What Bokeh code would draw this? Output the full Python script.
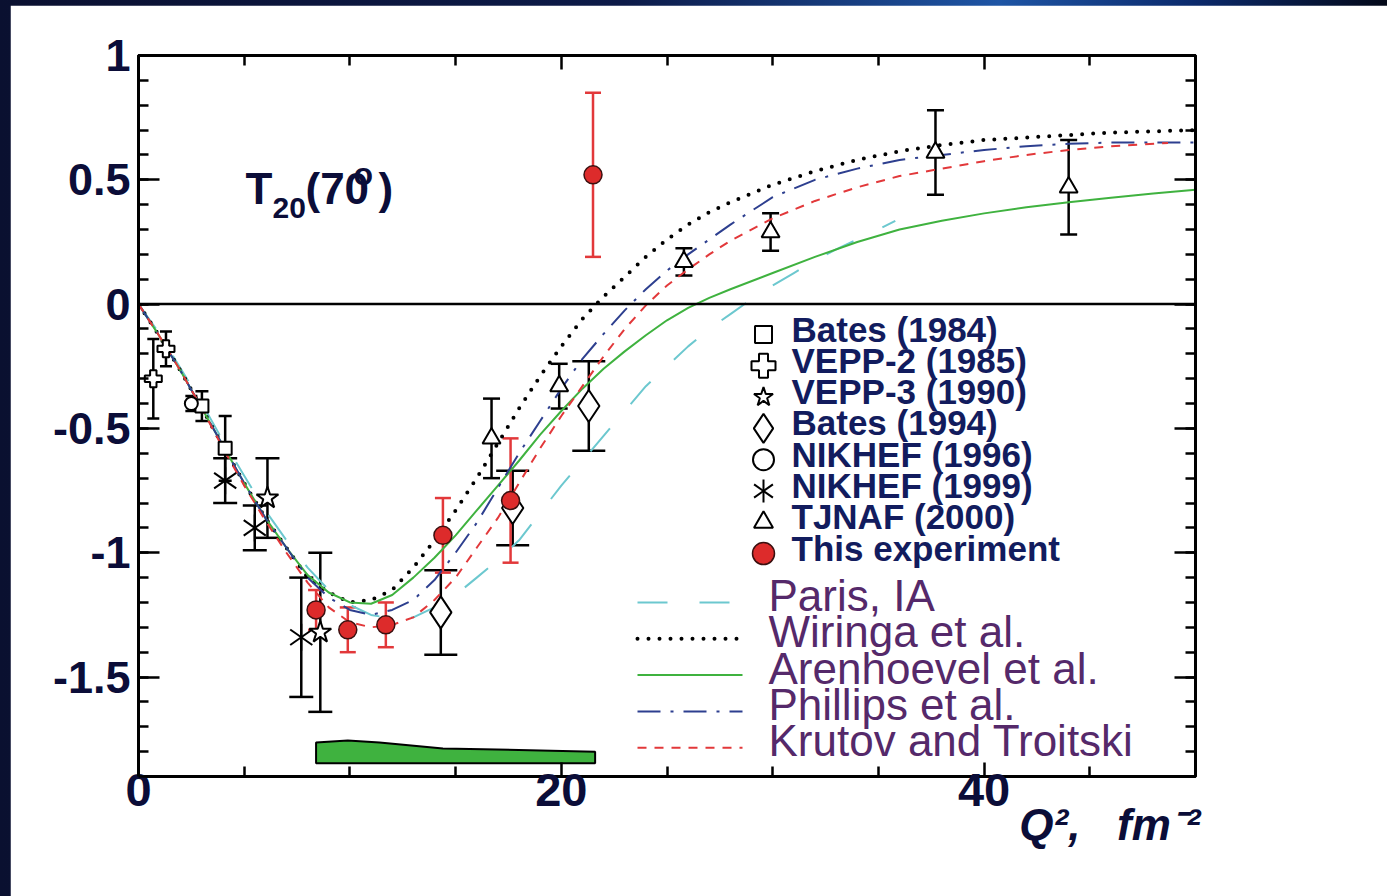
import numpy as np
from bokeh.plotting import figure
from bokeh.models import (ColumnDataSource, Whisker, TeeHead, Span, Label, LinearAxis,
                          FixedTicker, Range1d)
from bokeh.layouts import column
from bokeh.core.properties import value
from bokeh.embed import file_html
from bokeh.resources import INLINE

FONT = "Liberation Sans"
NAVY = "#0b0d38"
DATA_LBL_COLOR = "#121c5e"
THEORY_LBL_COLOR = "#55296a"

# ---------------- data ----------------
bates84_x = [3.0, 4.1]
bates84_y = [-0.41, -0.58]
bates84_e = [0.06, 0.13]

vepp2_x = [0.7, 1.3]
vepp2_y = [-0.30, -0.18]
vepp2_e = [0.16, 0.07]

vepp3_x = [6.1, 8.6]
vepp3_y = [-0.78, -1.32]
vepp3_e = [0.16, 0.32]

bates94_x = [14.3, 17.7, 21.3]
bates94_y = [-1.24, -0.82, -0.41]
bates94_e = [0.17, 0.15, 0.18]

nikhef96_x = [2.5]
nikhef96_y = [-0.40]
nikhef96_e = [0.03]

nikhef99_x = [4.1, 5.5, 7.7]
nikhef99_y = [-0.71, -0.90, -1.34]
nikhef99_e = [0.09, 0.09, 0.24]

tjnaf_x = [16.7, 19.9, 25.8, 29.9, 37.7, 44.0]
tjnaf_y = [-0.54, -0.33, 0.17, 0.29, 0.61, 0.47]
tjnaf_e = [0.16, 0.09, 0.055, 0.075, 0.17, 0.19]

this_x = [8.4, 9.9, 11.7, 14.4, 17.6, 21.5]
this_y = [-1.23, -1.31, -1.29, -0.93, -0.79, 0.52]
this_e = [0.08, 0.09, 0.09, 0.15, 0.25, 0.33]

# systematic-error band
sys_x = [8.4, 9.9, 11.4, 14.4, 21.6]
sys_top = [-1.763, -1.755, -1.763, -1.787, -1.80]
sys_bottom = [-1.847, -1.847, -1.847, -1.847, -1.847]

# theory curves
curve_x = [0, 1, 2, 3, 4, 5, 6, 7, 8, 9, 10, 11, 12, 13, 14, 15, 16, 17, 18, 19, 20,
           21, 22, 23, 24, 25, 26, 27, 28, 30, 32, 34, 36, 38, 40, 42, 44, 46, 48, 50]
wiringa_y = [0, -0.13, -0.27, -0.42, -0.57, -0.72, -0.86, -0.98, -1.10, -1.16, -1.20,
             -1.19, -1.15, -1.06, -0.95, -0.83, -0.70, -0.56, -0.42, -0.29, -0.17,
             -0.06, 0.03, 0.11, 0.19, 0.26, 0.32, 0.37, 0.41, 0.48, 0.535, 0.58, 0.615,
             0.64, 0.66, 0.67, 0.68, 0.69, 0.695, 0.70]
arenhoevel_y = [0, -0.13, -0.27, -0.42, -0.57, -0.72, -0.86, -0.98, -1.09, -1.16, -1.20,
                -1.205, -1.17, -1.10, -1.02, -0.93, -0.83, -0.73, -0.63, -0.525, -0.43,
                -0.34, -0.26, -0.19, -0.125, -0.065, -0.015, 0.025, 0.06, 0.125, 0.19,
                0.25, 0.30, 0.335, 0.365, 0.39, 0.41, 0.428, 0.445, 0.46]
phillips_y = [0, -0.13, -0.27, -0.42, -0.57, -0.72, -0.86, -0.98, -1.10, -1.18, -1.23,
              -1.25, -1.23, -1.19, -1.11, -1.00, -0.88, -0.74, -0.60, -0.47, -0.34,
              -0.22, -0.12, -0.025, 0.06, 0.135, 0.20, 0.26, 0.32, 0.43, 0.50, 0.545,
              0.58, 0.60, 0.62, 0.635, 0.645, 0.65, 0.65, 0.65]
krutov_x = [0, 1, 2, 3, 4, 5, 6, 7, 8, 9, 10, 11, 12, 13, 14, 15, 16, 17, 18, 19, 20,
            21, 22, 23, 24, 25, 26, 27, 28, 30, 32, 34, 36, 38, 40, 42, 44, 46, 48.7]
krutov_y = [0, -0.13, -0.27, -0.42, -0.58, -0.73, -0.87, -1.00, -1.12, -1.22, -1.28,
            -1.30, -1.29, -1.26, -1.19, -1.10, -0.98, -0.86, -0.72, -0.58, -0.45,
            -0.33, -0.21, -0.10, -0.005, 0.075, 0.14, 0.20, 0.255, 0.345, 0.415, 0.47,
            0.515, 0.545, 0.575, 0.60, 0.62, 0.635, 0.648]
paris_x = [0, 1, 2, 3, 4, 5, 6, 7, 8, 9, 10, 11, 12, 13, 14, 15, 16, 17, 18, 19, 20,
           21, 22, 23, 24, 25, 26, 27, 28, 29, 30, 31, 32, 33, 34, 35, 35.8]
paris_y = [0, -0.12, -0.26, -0.40, -0.55, -0.69, -0.83, -0.95, -1.06, -1.15, -1.21,
           -1.25, -1.265, -1.26, -1.22, -1.17, -1.10, -1.03, -0.95, -0.84, -0.73,
           -0.63, -0.53, -0.43, -0.33, -0.25, -0.17, -0.10, -0.04, 0.02, 0.075, 0.125,
           0.175, 0.22, 0.26, 0.30, 0.335]

# ticks
X_TICKS = [0, 20, 40]
X_TICK_LABELS = ["0", "20", "40"]
X_MINOR = [5, 10, 15, 25, 30, 35, 45]
Y_TICKS = [-1.5, -1.0, -0.5, 0.0, 0.5, 1.0]
Y_TICK_LABELS = ["-1.5", "-1", "-0.5", "0", "0.5", "1"]
X_TITLE = "Q\u00b2,\u00a0\u00a0\u00a0fm\u207b\u00b2"

DATA_LABELS = ["Bates (1984)", "VEPP-2 (1985)", "VEPP-3 (1990)", "Bates  (1994)",
               "NIKHEF (1996)", "NIKHEF (1999)", "TJNAF (2000)", "This experiment"]
THEORY_LABELS = ["Paris, IA", "Wiringa et al.", "Arenhoevel et al.", "Phillips et al.",
                 "Krutov and Troitski"]

# ---------------- layout helpers (page pixels -> data) ----------------
X_MIN, X_MAX = 0.0, 50.0
Y_MIN, Y_MAX = -1.9, 1.0
FRAME_L, FRAME_R, FRAME_T, FRAME_B = 138.0, 1195.0, 55.0, 776.0
BASELINE_FIX = 0.385   # em shift between requested and drawn baseline


def px2x(px):
    return X_MIN + (px - FRAME_L) / (FRAME_R - FRAME_L) * (X_MAX - X_MIN)


def py2y(py):
    return Y_MAX - (py - FRAME_T) / (FRAME_B - FRAME_T) * (Y_MAX - Y_MIN)


def base_y(py, size):
    return py2y(py - BASELINE_FIX * size)


p = figure(width=1377, height=891,
           x_range=Range1d(X_MIN, X_MAX), y_range=Range1d(Y_MIN, Y_MAX),
           output_backend="svg", toolbar_location=None,
           min_border_left=128, min_border_right=192, min_border_top=50,
           min_border_bottom=120,
           background_fill_color="white", border_fill_color="white",
           outline_line_color="black", outline_line_width=3)
p.xgrid.visible = False
p.ygrid.visible = False

xticker = FixedTicker(ticks=X_TICKS, minor_ticks=X_MINOR)
yminor = [float(v) for v in np.round(np.arange(-1.9, 1.0001, 0.1), 2)]
yticker = FixedTicker(ticks=Y_TICKS, minor_ticks=yminor)


def style_axis(ax, major_in):
    ax.axis_line_color = "black"
    ax.axis_line_width = 3
    ax.major_tick_line_color = "black"
    ax.major_tick_line_width = 2.5
    ax.minor_tick_line_color = "black"
    ax.minor_tick_line_width = 2.5
    ax.major_tick_in = major_in
    ax.major_tick_out = 0
    ax.minor_tick_in = 10
    ax.minor_tick_out = 0


xa = p.xaxis[0]
xa.ticker = xticker
xa.major_label_overrides = {t: l for t, l in zip(X_TICKS, X_TICK_LABELS)}
style_axis(xa, 14)
xa.major_label_text_font = FONT
xa.major_label_text_font_style = "bold"
xa.major_label_text_font_size = "47px"
xa.major_label_text_color = NAVY
xa.major_label_standoff = -3
# the axis title is centred on the axis end; trailing no-break spaces move
# its visible part to the left so that it ends at the frame corner
xa.axis_label = X_TITLE + "\u00a0" * 14
xa.axis_label_text_font = FONT
xa.axis_label_text_font_style = "bold italic"
xa.axis_label_text_font_size = "44px"
xa.axis_label_text_color = NAVY
xa.axis_label_standoff = -9
for v in ("end", "right"):
    try:
        xa.axis_label_align = v
        break
    except Exception:
        pass

ya = p.yaxis[0]
ya.ticker = yticker
ya.major_label_overrides = {t: l for t, l in zip(Y_TICKS, Y_TICK_LABELS)}
style_axis(ya, 21)
ya.major_label_text_font = FONT
ya.major_label_text_font_style = "bold"
ya.major_label_text_font_size = "45px"
ya.major_label_text_color = NAVY
ya.major_label_standoff = 8

top_ax = LinearAxis(ticker=xticker, major_label_text_color=None,
                    major_label_text_font_size="2px", major_label_standoff=0)
style_axis(top_ax, 14)
p.add_layout(top_ax, "above")
right_ax = LinearAxis(ticker=yticker, major_label_text_color=None,
                      major_label_text_font_size="2px", major_label_standoff=0)
style_axis(right_ax, 21)
p.add_layout(right_ax, "right")

p.add_layout(Span(location=0, dimension="width", line_color="black", line_width=2.5))

# systematic band
band_xs = list(sys_x) + list(sys_x[::-1])
band_ys = list(sys_top) + list(sys_bottom[::-1])
p.patch(band_xs, band_ys, fill_color="#3fb23f", line_color="black", line_width=2)

# theory curves
CYAN, GREEN, BLUE, RED = "#6cc8cf", "#3fb23f", "#2d3f8f", "#e2383a"
p.line(paris_x, paris_y, line_color=CYAN, line_width=2, line_dash="30 32")
p.line(curve_x, wiringa_y, line_color="black", line_width=4, line_dash="0 11",
       line_cap="round")
p.line(curve_x, arenhoevel_y, line_color=GREEN, line_width=2)
p.line(curve_x, phillips_y, line_color=BLUE, line_width=2, line_dash="23 10 3 10")
p.line(krutov_x, krutov_y, line_color=RED, line_width=2, line_dash="9 8")


def errbars(xs, ys, es, color, cap, width=2.5):
    src = ColumnDataSource(dict(x=xs, lo=[y - e for y, e in zip(ys, es)],
                                hi=[y + e for y, e in zip(ys, es)]))
    p.add_layout(Whisker(source=src, base="x", lower="lo", upper="hi",
                         line_color=color, line_width=width,
                         lower_head=TeeHead(size=cap, line_color=color, line_width=width),
                         upper_head=TeeHead(size=cap, line_color=color, line_width=width)))


errbars(vepp2_x, vepp2_y, vepp2_e, "black", 12)
errbars(bates84_x, bates84_y, bates84_e, "black", 13)
errbars(nikhef96_x, nikhef96_y, nikhef96_e, "black", 12)
errbars(nikhef99_x, nikhef99_y, nikhef99_e, "black", 24)
errbars(vepp3_x, vepp3_y, vepp3_e, "black", 24)
errbars(bates94_x, bates94_y, bates94_e, "black", 33)
errbars(tjnaf_x, tjnaf_y, tjnaf_e, "black", 17)
errbars(this_x, this_y, this_e, RED, 16)

OPEN = dict(fill_color="white", line_color="black", line_width=2)
p.scatter(bates84_x, bates84_y, marker="square", size=13, **OPEN)
p.scatter(vepp2_x, vepp2_y, marker="plus", size=17, **OPEN)
p.scatter(vepp3_x, vepp3_y, marker="star", size=23, **OPEN)
p.scatter(bates94_x, bates94_y, marker="diamond", size=32, **OPEN)
p.scatter(nikhef96_x, nikhef96_y, marker="circle", size=13, **OPEN)
for ang in (90, 35, -35):
    p.scatter(nikhef99_x, nikhef99_y, marker="dash", size=27, angle=np.deg2rad(ang),
              line_color="black", line_width=2)
p.scatter(tjnaf_x, tjnaf_y, marker="triangle", size=18, **OPEN)
p.scatter(this_x, this_y, marker="circle", size=18, fill_color="#dd2b2b",
          line_color="#3a1010", line_width=1.5)

# ---------------- legend (data sets) ----------------
LEG_MARK_PX = 763
LEG_TEXT_PX = 791
LEG_BASE0, LEG_STEP, LEG_FS = 342.0, 31.3, 35
text_y = [base_y(LEG_BASE0 + i * LEG_STEP, LEG_FS) for i in range(len(DATA_LABELS))]
mark_y = [py2y(LEG_BASE0 + i * LEG_STEP - 8) for i in range(len(DATA_LABELS))]
p.text(x=[px2x(LEG_TEXT_PX)] * len(DATA_LABELS), y=text_y, text=DATA_LABELS,
       text_font=value(FONT), text_font_style="bold", text_font_size=f"{LEG_FS}px",
       text_color=DATA_LBL_COLOR, text_baseline="alphabetic", text_align="left")
mx = px2x(LEG_MARK_PX)
p.scatter([mx], [mark_y[0]], marker="square", size=17, **OPEN)
p.scatter([mx], [mark_y[1]], marker="plus", size=24, **OPEN)
p.scatter([mx], [mark_y[2]], marker="star", size=20, **OPEN)
p.scatter([mx], [mark_y[3]], marker="diamond", size=29, **OPEN)
p.scatter([mx], [mark_y[4]], marker="circle", size=21, **OPEN)
for ang in (90, 35, -35):
    p.scatter([mx], [mark_y[5]], marker="dash", size=23, angle=np.deg2rad(ang),
              line_color="black", line_width=2)
p.scatter([mx], [mark_y[6]], marker="triangle", size=19, **OPEN)
p.scatter([mx], [mark_y[7]], marker="circle", size=22, fill_color="#dd2b2b",
          line_color="#3a1010", line_width=1.5)

# ---------------- legend (theory) ----------------
TH_BASE0, TH_STEP, TH_FS = 612.0, 36.3, 44
th_text_y = [base_y(TH_BASE0 + i * TH_STEP, TH_FS) for i in range(len(THEORY_LABELS))]
th_line_y = [py2y(TH_BASE0 + i * TH_STEP - 10) for i in range(len(THEORY_LABELS))]
p.text(x=[px2x(768)] * len(THEORY_LABELS), y=th_text_y, text=THEORY_LABELS,
       text_font=value(FONT), text_font_size=f"{TH_FS}px",
       text_color=THEORY_LBL_COLOR, text_baseline="alphabetic", text_align="left")
lx0, lx1 = px2x(637), px2x(742)
th_styles = [dict(line_color=CYAN, line_width=2, line_dash="30 32"),
             dict(line_color="black", line_width=4, line_dash="0 11", line_cap="round"),
             dict(line_color=GREEN, line_width=2),
             dict(line_color=BLUE, line_width=2, line_dash="23 10 3 10"),
             dict(line_color=RED, line_width=2, line_dash="9 8")]
for yy, st in zip(th_line_y, th_styles):
    p.line([lx0, lx1], [yy, yy], **st)


# ---------------- annotation T20(70°) ----------------
def lab(text, px, py, size, style="bold"):
    p.add_layout(Label(x=px2x(px), y=base_y(py, size), text=text, text_font=FONT,
                       text_font_style=style, text_font_size=f"{size}px",
                       text_color=NAVY, text_baseline="alphabetic", text_align="left"))


lab("T", 245, 205, 44)
lab("20", 272, 219, 30)
lab("(70", 305, 205, 44)
lab("o", 353, 186, 32)
lab(")", 378, 205, 44)

layout = column(p, styles={
    "background": "linear-gradient(90deg, #0a1030 0%, #0c1a48 45%, #1e55a5 72%, "
                  "#0b2a6c 86%, #030818 100%)",
    "padding-left": "10px", "padding-top": "5px"})

open("out.html", "w").write(file_html(layout, INLINE))
